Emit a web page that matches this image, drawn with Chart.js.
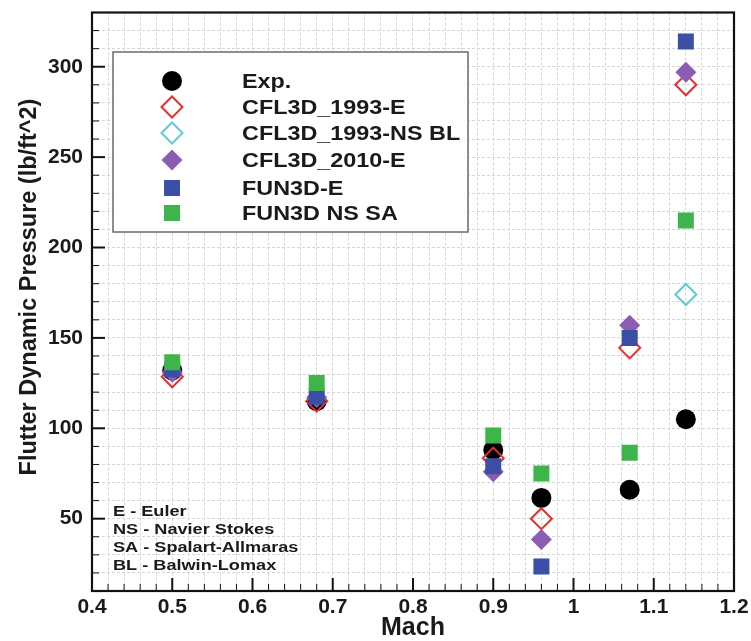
<!DOCTYPE html>
<html>
<head>
<meta charset="utf-8">
<script src="https://cdn.jsdelivr.net/npm/chart.js@4/dist/chart.umd.min.js"></script>
<style>
  html, body { margin: 0; padding: 0; background: #ffffff; }
  #wrap { width: 751px; height: 641px; position: relative; }
</style>
</head>
<body>
<div id="wrap"><canvas id="chart" width="751" height="641"></canvas></div>
<script>
// Flutter dynamic pressure vs. Mach number: experiment and CFD predictions
const machExp      = [0.50, 0.68, 0.90, 0.96, 1.07, 1.14];
const qExp         = [132, 115, 88, 61.5, 66, 105];

const machCfl93E   = [0.50, 0.68, 0.90, 0.96, 1.07, 1.14];
const qCfl93E      = [128.5, 115, 83.5, 50, 144.5, 290];

const machCfl93NS  = [1.14];
const qCfl93NS     = [174];

const machCfl10E   = [0.50, 0.68, 0.90, 0.96, 1.07, 1.14];
const qCfl10E      = [131, 117, 76, 38.5, 157, 297];

const machFun3dE   = [0.50, 0.68, 0.90, 0.96, 1.07, 1.14];
const qFun3dE      = [132.5, 117.5, 79, 23.5, 150, 314];

const machFun3dSA  = [0.50, 0.68, 0.90, 0.96, 1.07, 1.14];
const qFun3dSA     = [136.5, 125, 96, 75, 86.5, 215];

const xTickLabels  = [0.4, 0.5, 0.6, 0.7, 0.8, 0.9, 1, 1.1, 1.2];
const yTickLabels  = [50, 100, 150, 200, 250, 300];

const seriesNames  = ['Exp.', 'CFL3D_1993-E', 'CFL3D_1993-NS BL', 'CFL3D_2010-E', 'FUN3D-E', 'FUN3D NS SA'];
const noteLines    = ['E - Euler', 'NS - Navier Stokes', 'SA - Spalart-Allmaras', 'BL - Balwin-Lomax'];
const xTitle       = 'Mach';
const yTitle       = 'Flutter Dynamic Pressure (lb/ft^2)';

const FONT = '"Liberation Sans", Arial, Helvetica, sans-serif';
const INK = '#1a1a1a';

function pts(xs, ys) { return xs.map((x, i) => ({ x: x, y: ys[i] })); }

const datasets = [
  { label: seriesNames[0], data: pts(machExp, qExp), pointStyle: 'circle', pointRadius: 10,
    backgroundColor: '#000000', borderColor: '#000000', borderWidth: 0, order: 6 },
  { label: seriesNames[1], data: pts(machCfl93E, qCfl93E), pointStyle: 'rectRot', pointRadius: 10.5,
    backgroundColor: 'rgba(0,0,0,0)', borderColor: '#e3302d', borderWidth: 2, order: 5 },
  { label: seriesNames[2], data: pts(machCfl93NS, qCfl93NS), pointStyle: 'rectRot', pointRadius: 10.5,
    backgroundColor: 'rgba(0,0,0,0)', borderColor: '#62c9d6', borderWidth: 2, order: 4 },
  { label: seriesNames[3], data: pts(machCfl10E, qCfl10E), pointStyle: 'rectRot', pointRadius: 10.5,
    backgroundColor: '#8a5cb2', borderColor: '#8a5cb2', borderWidth: 0, order: 3 },
  { label: seriesNames[4], data: pts(machFun3dE, qFun3dE), pointStyle: 'rect', pointRadius: 11.3,
    backgroundColor: '#3b4fa6', borderColor: '#3b4fa6', borderWidth: 0, order: 2 },
  { label: seriesNames[5], data: pts(machFun3dSA, qFun3dSA), pointStyle: 'rect', pointRadius: 11.3,
    backgroundColor: '#3db54a', borderColor: '#3db54a', borderWidth: 0, order: 1 }
];
datasets.forEach(d => { d.showLine = false; d.pointHoverRadius = d.pointRadius; });

function isMultiple(v, step) {
  const r = v / step;
  return Math.abs(r - Math.round(r)) < 1e-6;
}

// text with an optional horizontal stretch; align is 'left' | 'center' | 'right'
function stretchedText(ctx, text, x, y, size, sx, align) {
  ctx.save();
  ctx.font = 'bold ' + size + 'px ' + FONT;
  ctx.textBaseline = 'middle';
  ctx.textAlign = 'left';
  const w = ctx.measureText(text).width * sx;
  let x0 = x;
  if (align === 'center') x0 = x - w / 2;
  else if (align === 'right') x0 = x - w;
  ctx.translate(x0, y);
  ctx.scale(sx, 1);
  ctx.fillText(text, 0, 0);
  ctx.restore();
}

// frame around the plot, inward tick marks, tick labels and axis titles
const framePlugin = {
  id: 'frame',
  afterDatasetsDraw(chart) {
    const ctx = chart.ctx, a = chart.chartArea;
    const xs = chart.scales.x, ys = chart.scales.y;
    ctx.save();
    ctx.strokeStyle = '#111111';
    xs.ticks.forEach(t => {
      const px = xs.getPixelForValue(t.value);
      const major = isMultiple(t.value, 0.1);
      ctx.lineWidth = major ? 2 : 1;
      ctx.beginPath();
      ctx.moveTo(px, a.bottom);
      ctx.lineTo(px, a.bottom - (major ? 13 : 7));
      ctx.stroke();
    });
    ys.ticks.forEach(t => {
      const py = ys.getPixelForValue(t.value);
      const major = isMultiple(t.value, 50);
      ctx.lineWidth = major ? 2 : 1;
      ctx.beginPath();
      ctx.moveTo(a.left, py);
      ctx.lineTo(a.left + (major ? 13 : 7), py);
      ctx.stroke();
    });
    ctx.lineWidth = 2.2;
    ctx.strokeRect(a.left, a.top, a.right - a.left, a.bottom - a.top);

    ctx.fillStyle = INK;
    xTickLabels.forEach(v => {
      stretchedText(ctx, String(v), xs.getPixelForValue(v), a.bottom + 16, 21, 1.0, 'center');
    });
    yTickLabels.forEach(v => {
      stretchedText(ctx, String(v), a.left - 9, ys.getPixelForValue(v), 21, 1.0, 'right');
    });
    stretchedText(ctx, xTitle, (a.left + a.right) / 2, 628, 25, 1.0, 'center');

    ctx.save();
    ctx.translate(30, 287);
    ctx.rotate(-Math.PI / 2);
    stretchedText(ctx, yTitle, 0, 0, 23.5, 1.0, 'center');
    ctx.restore();
    ctx.restore();
  }
};

// boxed legend inside the plot and the abbreviation notes
const legendPlugin = {
  id: 'boxLegend',
  afterDraw(chart) {
    const ctx = chart.ctx;
    const bx = 113, by = 52, bw = 355, bh = 180;
    ctx.save();
    ctx.fillStyle = '#ffffff';
    ctx.fillRect(bx, by, bw, bh);
    ctx.strokeStyle = '#6a6a6a';
    ctx.lineWidth = 1.5;
    ctx.strokeRect(bx, by, bw, bh);
    const rowY = [29, 55, 81, 108, 136, 161];
    chart.data.datasets.forEach((d, i) => {
      const cy = by + rowY[i];
      ctx.fillStyle = d.backgroundColor;
      ctx.strokeStyle = d.borderColor;
      ctx.lineWidth = d.borderWidth;
      Chart.helpers.drawPoint(ctx, {
        pointStyle: d.pointStyle, radius: d.pointRadius, borderWidth: d.borderWidth, rotation: 0
      }, bx + 59, cy);
      ctx.fillStyle = INK;
      stretchedText(ctx, d.label, bx + 129, cy + 1, 20.5, 1.14, 'left');
    });
    ctx.fillStyle = INK;
    noteLines.forEach((s, i) => {
      stretchedText(ctx, s, 113, 512 + i * 18, 15.5, 1.17, 'left');
    });
    ctx.restore();
  }
};

new Chart(document.getElementById('chart'), {
  type: 'scatter',
  data: { datasets: datasets },
  options: {
    responsive: false,
    maintainAspectRatio: false,
    animation: false,
    events: [],
    layout: { padding: { top: 11, right: 17, left: 0, bottom: 0 } },
    plugins: { legend: { display: false }, tooltip: { enabled: false } },
    scales: {
      x: {
        type: 'linear', min: 0.4, max: 1.2,
        afterFit(s) { s.height = 50; },
        border: { display: false, dash: [3, 2] },
        grid: { color: '#d6d6d6', lineWidth: 1, drawTicks: false },
        ticks: { stepSize: 0.02, autoSkip: false, display: false }
      },
      y: {
        type: 'linear', min: 10, max: 330,
        afterFit(s) { s.width = 92; },
        border: { display: false, dash: [3, 2] },
        grid: { color: '#d6d6d6', lineWidth: 1, drawTicks: false },
        ticks: { stepSize: 10, autoSkip: false, display: false }
      }
    }
  },
  plugins: [framePlugin, legendPlugin]
});
</script>
</body>
</html>
